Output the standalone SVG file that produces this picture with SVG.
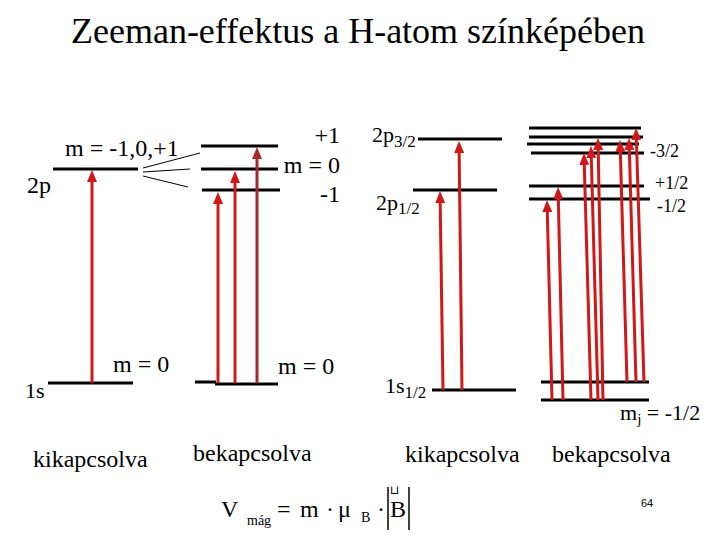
<svg xmlns="http://www.w3.org/2000/svg" width="720" height="540" viewBox="0 0 720 540">
<style>
.t24{font-size:24px}
.t22{font-size:22px}
.t18{font-size:18px}
.lvl{stroke:#000;stroke-width:3;fill:none}
.arr{stroke:#d01818;stroke-width:3;fill:none;marker-end:url(#ah)}
.arr2{stroke:#a82828;stroke-width:3;fill:none;marker-end:url(#ah2)}
.fan{stroke:#000;stroke-width:1;fill:none}
</style>
<defs>
<marker id="ah" viewBox="0 0 12 10" refX="0" refY="5" markerWidth="12" markerHeight="10" markerUnits="userSpaceOnUse" orient="auto"><path d="M0,0 L12,5 L0,10 z" fill="#d01818"/></marker>
<marker id="ah2" viewBox="0 0 12 10" refX="0" refY="5" markerWidth="12" markerHeight="10" markerUnits="userSpaceOnUse" orient="auto"><path d="M0,0 L12,5 L0,10 z" fill="#a82828"/></marker>
</defs>
<rect width="720" height="540" fill="#fff"/>
<g font-family="'Liberation Serif', 'Times New Roman', serif" fill="#000">
<text id="title" x="358" y="43" font-size="36" text-anchor="middle">Zeeman-effektus a H-atom színképében</text>

<g id="left-off-2p">
<line class="lvl" x1="53" y1="169" x2="138" y2="169"/>
<text class="t24" x="27" y="193">2p</text>
<text class="t24" x="65" y="156">m = -1,0,+1</text>
</g>
<g id="left-off-1s">
<line class="lvl" x1="48" y1="383" x2="133" y2="383"/>
<text class="t22" x="25" y="398">1s</text>
<text class="t24" x="113" y="372">m = 0</text>
</g>
<text id="label-off-1" class="t24" x="33" y="467">kikapcsolva</text>

<g id="left-on-levels">
<line class="lvl" x1="201" y1="146" x2="278" y2="146"/>
<line class="lvl" x1="201" y1="169" x2="278" y2="169"/>
<line class="lvl" x1="202" y1="190" x2="280" y2="190"/>
<text class="t24" x="340" y="143" text-anchor="end">+1</text>
<text class="t24" x="340" y="173" text-anchor="end">m = 0</text>
<text class="t24" x="340" y="202" text-anchor="end">-1</text>
</g>
<g id="left-on-1s">
<line class="lvl" x1="195" y1="382" x2="216" y2="382"/>
<line class="lvl" x1="215" y1="384" x2="278" y2="384"/>
<text class="t24" x="278" y="374">m = 0</text>
</g>
<text id="label-on-1" class="t24" x="193" y="461">bekapcsolva</text>

<g id="right-off-2p32">
<line class="lvl" x1="418" y1="139" x2="502" y2="139"/>
<text class="t22" x="372" y="142">2p<tspan font-size="17" dy="5">3/2</tspan></text>
</g>
<g id="right-off-2p12">
<line class="lvl" x1="413" y1="190" x2="497" y2="190"/>
<text class="t22" x="376" y="210">2p<tspan font-size="17" dy="4">1/2</tspan></text>
</g>
<g id="right-off-1s">
<line class="lvl" x1="432" y1="390" x2="516" y2="390"/>
<text class="t22" x="385" y="393">1s<tspan font-size="17" dy="5">1/2</tspan></text>
</g>
<text id="label-off-2" class="t24" x="405" y="462">kikapcsolva</text>

<g id="right-on-upper">
<line class="lvl" x1="529" y1="128" x2="641" y2="128"/>
<line class="lvl" x1="529" y1="137" x2="643" y2="137"/>
<line class="lvl" x1="527" y1="144" x2="639" y2="144"/>
<line class="lvl" x1="531" y1="153" x2="644" y2="153"/>
<line class="lvl" x1="529" y1="186" x2="644" y2="186"/>
<line class="lvl" x1="529" y1="199" x2="650" y2="199"/>
<text class="t18" x="650" y="157">-3/2</text>
<text class="t18" x="655" y="189">+1/2</text>
<text class="t18" x="657" y="212">-1/2</text>
</g>
<g id="right-on-lower">
<line class="lvl" x1="541" y1="382" x2="649" y2="382"/>
<line class="lvl" x1="541" y1="400" x2="649" y2="400"/>
<text class="t22" x="620" y="420">m<tspan font-size="15" dy="4">j</tspan><tspan dy="-4"> = -1/2</tspan></text>
</g>
<text id="label-on-2" class="t24" x="552" y="462">bekapcsolva</text>

<g id="formula">
<text class="t24" x="221" y="517">V</text>
<text x="247" y="525" font-size="14">mág</text>
<text class="t24" x="277" y="517">=</text>
<text class="t24" x="300" y="517">m</text>
<text class="t24" x="326" y="517">·</text>
<text class="t24" x="338" y="517">μ</text>
<text x="361" y="522" font-size="14">B</text>
<text class="t24" x="377" y="517">·</text>
<line x1="388" y1="487" x2="388" y2="530" stroke="#000" stroke-width="1.5"/>
<text x="390" y="494" font-size="12" font-family="'DejaVu Sans', sans-serif">⊔</text>
<text class="t24" x="390" y="517">B</text>
<line x1="409" y1="487" x2="409" y2="530" stroke="#000" stroke-width="1.5"/>
</g>
</g>

<g id="connectors">
<line class="fan" x1="143" y1="168" x2="200" y2="153"/>
<line class="fan" x1="143" y1="172" x2="190" y2="169"/>
<line class="fan" x1="143" y1="176" x2="188" y2="187"/>
<line class="arr" x1="92" y1="383" x2="92" y2="182"/>
<line class="arr" x1="218" y1="383" x2="218" y2="204"/>
<line class="arr" x1="235" y1="383" x2="235" y2="183"/>
<line class="arr2" x1="257" y1="383" x2="257" y2="159"/>
<line class="arr" x1="443" y1="390" x2="440.2" y2="203"/>
<line class="arr" x1="462" y1="390" x2="459.15" y2="153"/>
<line class="arr" x1="552" y1="400" x2="547.3" y2="212"/>
<line class="arr" x1="563" y1="400" x2="558.3" y2="199"/>
<line class="arr" x1="591" y1="400" x2="584.3" y2="165"/>
<line class="arr" x1="598" y1="400" x2="591.3" y2="158"/>
<line class="arr" x1="603" y1="400" x2="598.2" y2="150"/>
<line class="arr" x1="627" y1="382" x2="620.35" y2="152"/>
<line class="arr" x1="636" y1="382" x2="629.35" y2="150"/>
<line class="arr" x1="644" y1="382" x2="636.4" y2="140"/>
</g>
<text id="page" x="647" y="507" font-size="11" text-anchor="middle" font-family="'Liberation Sans', Arial, sans-serif">64</text>
</svg>
